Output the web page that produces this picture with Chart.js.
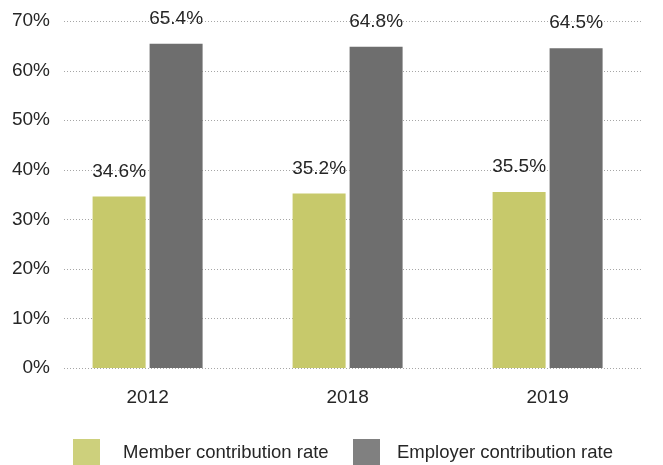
<!DOCTYPE html>
<html>
<head>
<meta charset="utf-8">
<script src="https://cdn.jsdelivr.net/npm/chart.js@4/dist/chart.umd.min.js"></script>
<style>
  html, body { margin: 0; padding: 0; background: #ffffff; }
  #wrap { width: 663px; height: 465px; }
</style>
</head>
<body>
<div id="wrap"><canvas id="c" width="663" height="465"></canvas></div>
<script>
const years = ['2012', '2018', '2019'];
const memberRate = [34.6, 35.2, 35.5];
const employerRate = [65.4, 64.8, 64.5];
const seriesNames = ['Member contribution rate', 'Employer contribution rate'];
const yTicks = [0, 10, 20, 30, 40, 50, 60, 70];

const FONT = '"Liberation Sans", Arial, sans-serif';
const barColors = ['#c7c96b', '#6e6e6e'];
const legendColors = ['#cdd07c', '#808080'];
const textColor = '#262626';

// Dotted horizontal guides across the plot, one per y tick
const dottedGrid = {
  id: 'dottedGrid',
  beforeDatasetsDraw(chart) {
    const { ctx, chartArea } = chart;
    const y = chart.scales.y;
    ctx.save();
    ctx.strokeStyle = '#a6a6a6';
    ctx.lineWidth = 1;
    ctx.setLineDash([1, 2]);
    y.ticks.forEach(t => {
      const py = Math.round(y.getPixelForValue(t.value)) + 0.5;
      ctx.beginPath();
      ctx.moveTo(chartArea.left, py);
      ctx.lineTo(chartArea.right, py);
      ctx.stroke();
    });
    ctx.restore();
  }
};

// Percentage labels above each bar
const valueLabels = {
  id: 'valueLabels',
  afterDatasetsDraw(chart) {
    const { ctx } = chart;
    ctx.save();
    ctx.font = '19px ' + FONT;
    ctx.fillStyle = textColor;
    ctx.textAlign = 'center';
    ctx.textBaseline = 'middle';
    chart.data.datasets.forEach((ds, di) => {
      const meta = chart.getDatasetMeta(di);
      meta.data.forEach((bar, i) => {
        ctx.fillText(ds.data[i].toFixed(1) + '%', bar.x, bar.y - 25);
      });
    });
    ctx.restore();
  }
};

// Legend row along the bottom edge
const bottomLegend = {
  id: 'bottomLegend',
  afterDraw(chart) {
    const { ctx } = chart;
    const items = [
      { box: 73, text: 123 },
      { box: 353, text: 397 }
    ];
    ctx.save();
    ctx.font = '18.5px ' + FONT;
    ctx.textBaseline = 'middle';
    ctx.textAlign = 'left';
    chart.data.datasets.forEach((ds, di) => {
      const it = items[di];
      ctx.fillStyle = legendColors[di];
      ctx.fillRect(it.box, 439, 27, 26);
      ctx.fillStyle = textColor;
      ctx.fillText(ds.label, it.text, 453);
    });
    ctx.restore();
  }
};

new Chart(document.getElementById('c'), {
  type: 'bar',
  data: {
    labels: years,
    datasets: [
      { label: seriesNames[0], data: memberRate, backgroundColor: barColors[0] },
      { label: seriesNames[1], data: employerRate, backgroundColor: barColors[1] }
    ]
  },
  options: {
    responsive: false,
    animation: false,
    devicePixelRatio: 1,
    categoryPercentage: 0.57,
    barPercentage: 0.93,
    layout: { autoPadding: false, padding: { top: 21, right: 20, bottom: 58, left: 0 } },
    plugins: {
      legend: { display: false },
      tooltip: { enabled: false }
    },
    scales: {
      x: {
        offset: false,
        grid: { display: false, drawTicks: false },
        border: { display: false },
        ticks: { color: textColor, font: { family: FONT, size: 19 }, padding: 18 },
        // the plot runs a little past the outer groups on each side
        afterBuildTicks(scale) {
          scale._startValue = -0.418;
          scale._valueRange = 2.895;
        },
        afterFit(scale) { scale.height = 39; }
      },
      y: {
        min: 0,
        max: 70,
        afterBuildTicks(scale) { scale.ticks = yTicks.map(v => ({ value: v })); },
        grid: { display: false, drawTicks: false },
        border: { display: false },
        ticks: {
          color: textColor,
          font: { family: FONT, size: 19 },
          padding: 14,
          callback: v => v + '%'
        },
        afterFit(scale) {
          scale.width = 64;
          scale.paddingTop = 0;
          scale.paddingBottom = 0;
        }
      }
    }
  },
  plugins: [dottedGrid, valueLabels, bottomLegend]
});
</script>
</body>
</html>
